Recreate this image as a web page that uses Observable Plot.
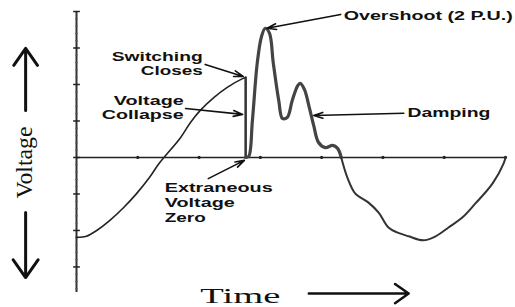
<!DOCTYPE html>
<html>
<head>
<meta charset="utf-8">
<script src="https://cdn.jsdelivr.net/npm/d3@7"></script>
<script src="https://cdn.jsdelivr.net/npm/@observablehq/plot@0.6"></script>
<style>
  html, body { margin: 0; padding: 0; background: #fff; }
</style>
</head>
<body>
<div id="chart"></div>
<script>
// ---- waveform data (time in grid units, voltage in grid units) ----
const riseTime = [0, 0.16, 0.33, 0.54, 0.77, 0.98, 1.19, 1.35, 1.70, 1.86, 2.02, 2.24, 2.46, 2.71, 2.76];
const riseVolt = [-2.19, -2.16, -2.00, -1.73, -1.37, -0.99, -0.55, -0.16, 0.55, 0.96, 1.29, 1.64, 1.92, 2.16, 2.19];

const collapseTime = [2.76, 2.76];
const collapseVolt = [2.19, 0];

const ringTime = [2.76, 2.81, 2.87, 2.95, 3.02, 3.08, 3.15, 3.21, 3.30, 3.36, 3.44, 3.52, 3.61, 3.65, 3.72, 3.79, 3.87, 3.95, 4.06, 4.18, 4.26, 4.32];
const ringVolt = [0, 0.03, 1.01, 2.60, 3.32, 3.54, 3.40, 2.60, 1.56, 1.07, 1.10, 1.56, 1.97, 2.03, 1.86, 1.43, 0.88, 0.41, 0.27, 0.33, 0.25, 0];

const tailTime = [4.32, 4.42, 4.55, 4.76, 4.93, 5.09, 5.24, 5.42, 5.66, 5.86, 6.07, 6.30, 6.51, 6.79, 6.97, 7.00];
const tailVolt = [0, -0.55, -0.99, -1.23, -1.51, -1.92, -2.06, -2.16, -2.27, -2.16, -1.92, -1.64, -1.26, -0.71, -0.16, 0];

// ---- axis ticks ----
const xTicks = [1, 2, 3, 4, 5, 6, 7];
const yTicks = [-3, -2, -1, 0, 1, 2, 3, 4];

// ---- annotations ----
const noteText   = ["Overshoot (2 P.U.)", "Switching", "Closes", "Voltage", "Collapse", "Damping", "Extraneous", "Voltage", "Zero"];
const noteTime   = [4.36, 2.06, 2.06, 1.75, 1.75, 5.40, 1.44, 1.44, 1.44];
const noteVolt   = [3.89, 2.74, 2.36, 1.56, 1.17, 1.23, -0.85, -1.26, -1.67];
const noteAnchor = ["start", "end", "end", "end", "end", "start", "start", "start", "start"];
const noteWidth  = [169, 91, 62, 71, 82, 83, 108, 70, 41];

const arrowT1 = [4.31, 2.10, 1.78, 5.34, 2.15];
const arrowV1 = [3.92, 2.55, 1.34, 1.21, -0.58];
const arrowT2 = [3.11, 2.72, 2.71, 3.87, 2.74];
const arrowV2 = [3.54, 2.22, 1.18, 1.15, -0.08];

// ---- axis titles ----
const yTitle = "Voltage";
const xTitle = "Time";

const toRows = (ts, vs) => ts.map((t, i) => ({t, v: vs[i]}));
const rise = toRows(riseTime, riseVolt);
const collapse = toRows(collapseTime, collapseVolt);
const ring = toRows(ringTime, ringVolt);
const tail = toRows(tailTime, tailVolt);
const notes = noteText.map((s, i) => ({s, t: noteTime[i], v: noteVolt[i], a: noteAnchor[i], w: noteWidth[i]}));
const arrows = arrowT1.map((t, i) => ({t1: t, v1: arrowV1[i], t2: arrowT2[i], v2: arrowV2[i]}));
const minorY = d3.range(-3.6, 4.0, 0.2).filter(v => Math.abs(v - Math.round(v)) > 0.05);

const sans = "Liberation Sans, Arial, sans-serif";
const serif = "Liberation Serif, Times New Roman, serif";
const noteStyle = {x: "t", y: "v", text: "s", fontSize: 12.5, fontWeight: "bold", fontFamily: sans, fill: "#111", lineAnchor: "middle"};

const chart = Plot.plot({
  width: 515,
  height: 307,
  marginLeft: 76,
  marginRight: 10,
  marginTop: 11,
  marginBottom: 15,
  x: {domain: [0, 7], axis: null},
  y: {domain: [-3.7, 4], axis: null},
  marks: [
    // axes
    Plot.ruleX([0], {y1: -3.7, y2: 4, stroke: "#333", strokeWidth: 2}),
    Plot.ruleY([0], {x1: 0, x2: 7, stroke: "#222", strokeWidth: 1.5}),
    Plot.link(yTicks, {x1: -0.055, x2: 0.055, y1: d => d, y2: d => d, stroke: "#222", strokeWidth: 1.5}),
    Plot.link(minorY, {x1: -0.025, x2: 0.025, y1: d => d, y2: d => d, stroke: "#666", strokeWidth: 1}),
    Plot.dot(xTicks, {x: d => d, y: 0, r: 1.6, fill: "#222", stroke: null}),
    // waveform
    Plot.line(rise, {x: "t", y: "v", curve: "catmull-rom", stroke: "#222", strokeWidth: 1.6}),
    Plot.line(collapse, {x: "t", y: "v", stroke: "#333", strokeWidth: 2.5}),
    Plot.line(ring, {x: "t", y: "v", curve: "catmull-rom", stroke: "#444", strokeWidth: 3.2}),
    Plot.line(tail, {x: "t", y: "v", curve: "catmull-rom", stroke: "#333", strokeWidth: 2}),
    // annotation arrows
    Plot.arrow(arrows, {x1: "t1", y1: "v1", x2: "t2", y2: "v2", stroke: "#111", strokeWidth: 1.6, headLength: 9, headAngle: 35}),
    // annotation texts
    Plot.text(notes.filter(d => d.a === "start"), {...noteStyle, textAnchor: "start"}),
    Plot.text(notes.filter(d => d.a === "end"), {...noteStyle, textAnchor: "end"}),
    // axis titles
    Plot.text([yTitle], {x: -0.85, y: -0.14, text: d => d, rotate: -90, fontSize: 24, fontFamily: serif, fill: "#111"}),
    Plot.text([xTitle], {x: 2.02, y: -4.0, text: d => d, textAnchor: "start", lineAnchor: "bottom", fontSize: 22, fontFamily: serif, fill: "#111"}),
    Plot.arrow([{a: 1.29, b: 2.99}, {a: -1.51, b: -3.29}], {x1: -0.83, x2: -0.83, y1: "a", y2: "b", stroke: "#111", strokeWidth: 3, headLength: 11, headAngle: 70}),
    Plot.arrow([0], {x1: 3.79, x2: 5.42, y1: -3.73, y2: -3.73, stroke: "#111", strokeWidth: 2.5, headLength: 10, headAngle: 70})
  ]
});

document.getElementById("chart").appendChild(chart);

// stretch glyphs horizontally to match the reference's wide lettering
const widthByText = new Map();
notes.forEach(n => widthByText.set(n.s + "|sans", n.w));
widthByText.set(xTitle + "|serif", 80);
widthByText.set(yTitle + "|serif", 72);
d3.select(chart).selectAll("text").each(function() {
  const g = this.closest("g");
  const fam = (g && g.getAttribute("font-family")) || "";
  const key = this.textContent + (fam.startsWith("Liberation Serif") ? "|serif" : "|sans");
  const w = widthByText.get(key);
  if (w) {
    this.setAttribute("textLength", w);
    this.setAttribute("lengthAdjust", "spacingAndGlyphs");
  }
});
</script>
</body>
</html>
